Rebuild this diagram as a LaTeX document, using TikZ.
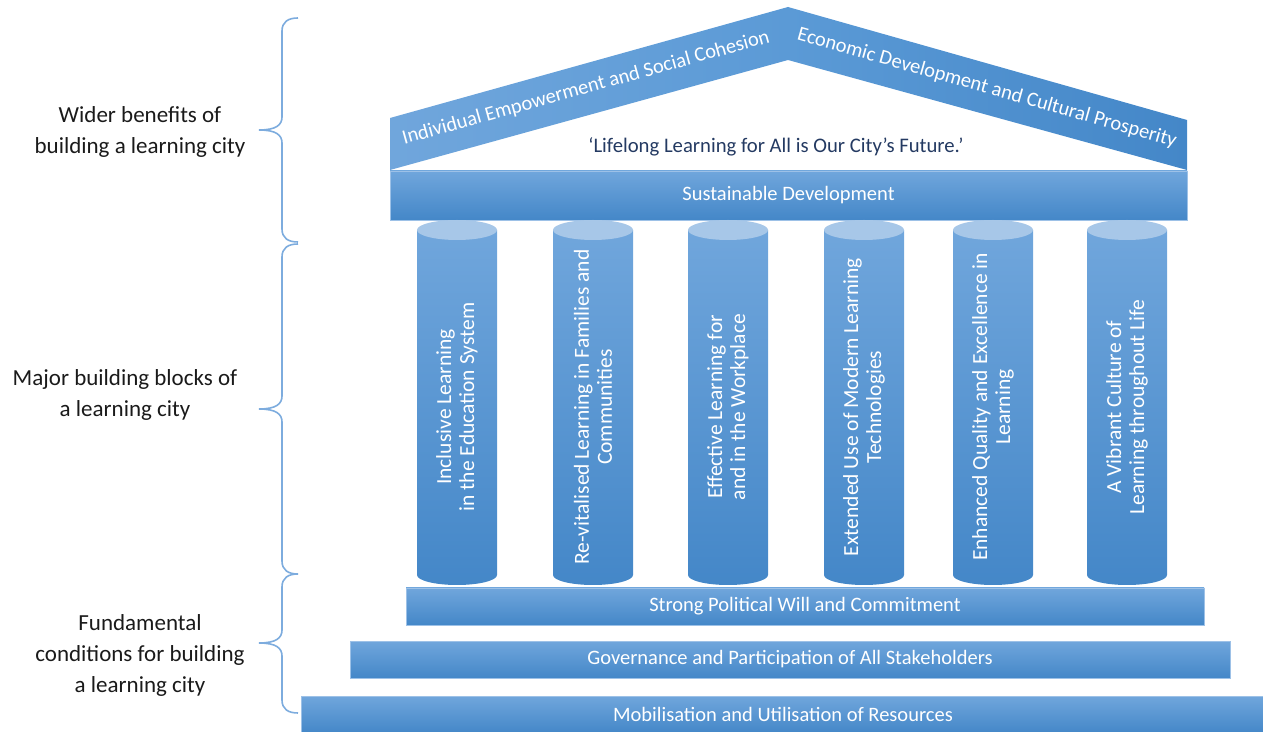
\documentclass[tikz,border=0pt]{standalone}
\usepackage{fontspec}
\setmainfont{Carlito}
\usepackage{tikz}
\usetikzlibrary{calc}
\usepackage{xcolor}
\definecolor{CityBlueTop}{HTML}{70A6DC}
\definecolor{CityBlueMid}{HTML}{5B9AD6}
\definecolor{CityBlueBot}{HTML}{4487C8}
\definecolor{CityCap}{HTML}{A7C7E8}
\definecolor{CityEdge}{HTML}{9DC1E7}
\definecolor{CityNavy}{HTML}{243A62}
\definecolor{CityBrace}{HTML}{7DACDE}
\definecolor{CityText}{HTML}{1A1A1A}

\begin{document}
\begin{tikzpicture}[
  x=1pt,y=1pt,
  slab/.style={rectangle,draw=CityEdge,line width=0.6pt,
    top color=CityBlueTop,bottom color=CityBlueBot,
    inner sep=0pt,text=white,align=center},
  pillar/.style={top color=CityBlueTop,bottom color=CityBlueBot},
  pillarcap/.style={fill=CityCap},
  pillartext/.style={text=white,align=center,
    font=\fontsize{21.5}{23}\selectfont},
  rooftext/.style={text=white,inner sep=0pt,
    font=\fontsize{20.5}{22}\selectfont},
  sidelabel/.style={text=CityText,align=center,
    font=\fontsize{23}{31}\selectfont},
  brace/.style={draw=CityBrace,line width=1.6pt}
]

\newcommand{\slabfont}{\fontsize{20.5}{22}\selectfont}
% left curly bracket: top end, bottom end, tip height
\newcommand{\citybrace}[3]{%
  \draw[brace] (298,#1) .. controls (288,#1) and (282,#1-4) .. (282,#1-13)
    -- (282,#3+13) .. controls (282,#3+5) and (276,#3) .. (259,#3)
    .. controls (276,#3) and (282,#3-5) .. (282,#3-13)
    -- (282,#2+13) .. controls (282,#2+4) and (288,#2) .. (298,#2);}

\useasboundingbox (0,0) rectangle (1263,731);

% roof
\shade[left color=CityBlueTop,right color=CityBlueMid]
  (390,613) -- (788,724) -- (788,671) -- (390,561) -- cycle;
\shade[left color=CityBlueMid,right color=CityBlueBot]
  (788,724) -- (1187,611) -- (1187,561) -- (788,671) -- cycle;
\node[rooftext,rotate=15.6] (empower) at (586,643)
  {Individual Empowerment and Social Cohesion};
\node[rooftext,rotate=-15.8] (economy) at (987,643)
  {Economic Development and Cultural Prosperity};
\node[text=CityNavy,font=\fontsize{20.7}{22}\selectfont] (motto) at (776,584)
  {‘Lifelong Learning for All is Our City’s Future.’};

\node[slab,minimum width=797,minimum height=49] (sustain) at (788.5,535.5)
  {\slabfont Sustainable Development};

% columns
\foreach \cx/\cname/\ctext in {
  457/inclusive/{Inclusive Learning\\in the Education System},
  593/families/{Re-vitalised Learning in Families and\\Communities},
  728/workplace/{Effective Learning for\\and in the Workplace},
  864/technology/{Extended Use of Modern Learning\\Technologies},
  993/quality/{Enhanced Quality and Excellence in\\Learning},
  1127/culture/{A Vibrant Culture of\\Learning throughout Life}} {
  \shade[pillar] (\cx-40,501) -- (\cx-40,156)
    arc[start angle=180,end angle=360,x radius=40,y radius=10]
    -- (\cx+40,501) -- cycle;
  \fill[pillarcap] (\cx,501) ellipse[x radius=40,y radius=10];
  \node[pillartext,rotate=90] (\cname) at (\cx,324) {\ctext};
}

% foundations
\node[slab,minimum width=798,minimum height=37] (will) at (805,124.5)
  {\slabfont Strong Political Will and Commitment};
\node[slab,minimum width=880,minimum height=37] (governance) at (790,71.5)
  {\slabfont Governance and Participation of All Stakeholders};
\node[slab,minimum width=964,minimum height=37] (resources) at (783,16.5)
  {\slabfont Mobilisation and Utilisation of Resources};

% brackets and their captions
\citybrace{713}{489}{601}
\citybrace{487}{157}{322}
\citybrace{157}{18}{88}

\node[sidelabel] (benefits) at (140,599)
  {Wider benefits of\\building a learning city};
\node[sidelabel] (blocks) at (125,336)
  {Major building blocks of\\a learning city};
\node[sidelabel] (conditions) at (140,76)
  {Fundamental\\conditions for building\\a learning city};

\end{tikzpicture}
\end{document}
